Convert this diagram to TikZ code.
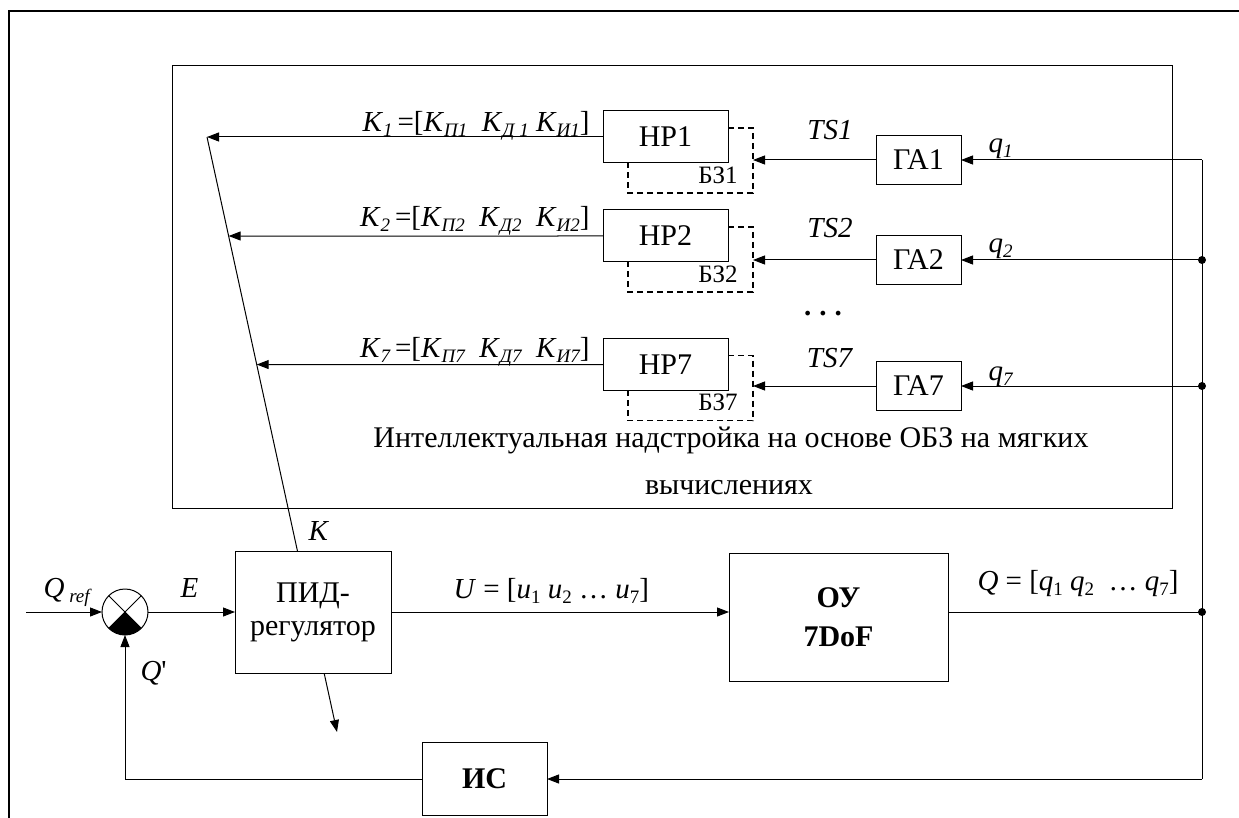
\documentclass[tikz,border=0pt]{standalone}
\usepackage{fontspec}
\setmainfont{Liberation Serif}
\newfontfamily\plainrm{Liberation Serif}[Ligatures=TeXOff]
\usetikzlibrary{arrows.meta,calc}
\newcommand\fsz[2]{\fontsize{#1}{#2}\selectfont}
\newcommand\lsub[1]{\raisebox{-5pt}{\fsz{19}{20}#1}}
\newcommand\isub[1]{\raisebox{-5pt}{\fsz{19}{20}\itshape #1}}
\begin{document}
\begin{tikzpicture}[x=1pt,y=-1pt, line width=1pt,
  arr/.style={-{Triangle[length=12pt,width=9pt]}},
  blk/.style={draw, fill=white, inner sep=0pt, outer sep=0pt, font=\fsz{30}{33}, align=center},
  hpbox/.style={blk, minimum width=125pt, minimum height=52pt},
  gabox/.style={blk, minimum width=85pt, minimum height=49pt},
  lbl/.style={font=\fsz{29}{32}, inner sep=0pt},
  bzlbl/.style={font=\fsz{25}{28}, inner sep=0pt},
  dbox/.style={line width=1.3pt, dash pattern=on 6pt off 4pt},
  jdot/.style={circle, fill, inner sep=0pt, minimum size=8pt}]
\useasboundingbox (0,0) rectangle (1239,818);
% outer frame
\draw[line width=2.6pt] (9,818) -- (9,11) -- (1239,11);
% supervisor box
\node[draw, minimum width=1000pt, minimum height=442pt, inner sep=0pt, outer sep=0pt] (sup) at (672,287) {};
% HP blocks
\node[hpbox] (hp1) at (665.5,137) {НР1};
\node[hpbox] (hp2) at (665.5,236) {НР2};
\node[hpbox] (hp7) at (665.5,364.5) {НР7};
\foreach \h/\n in {hp1/1,hp2/2,hp7/7}{
  \draw[dbox] ($(\h.north east)+(0,17)$) -- ++(25,0) -- ++(0,65) -- ++(-125,0) -- ++(0,-30);
  \node[bzlbl] at ($(\h.north east)+(-10,64)$) {БЗ\n};
}
% GA blocks
\node[gabox] (ga1) at (918.5,160) {ГА1};
\node[gabox] (ga2) at (918.5,260) {ГА2};
\node[gabox] (ga7) at (918.5,386) {ГА7};
\coordinate (bz1) at (753,160);
\coordinate (bz2) at (753,260);
\coordinate (bz7) at (753,386);
\draw[arr] (ga1.west) -- (bz1);
\draw[arr] (ga2.west) -- (bz2);
\draw[arr] (ga7.west) -- (bz7);
% bus
\coordinate (c1) at (1202,160);
\coordinate (j2) at (1202,260);
\coordinate (j7) at (1202,386);
\coordinate (jq) at (1202,612);
\coordinate (cb) at (1202,779);
\draw (c1) -- (cb);
\draw[arr] (c1) -- (ga1.east);
\draw[arr] (j2) -- (ga2.east);
\draw[arr] (j7) -- (ga7.east);
\node[jdot] at (j2) {};
\node[jdot] at (j7) {};
\node[jdot] at (jq) {};
% K line
\coordinate (kt) at (207,137);
\coordinate (kb) at (337,732);
\draw[arr] (kt) -- (kb);
\draw[arr] (hp1.west) -- (kt);
\draw[arr] (hp2.west) -- ($(kt)!0.1664!(kb)$);
\draw[arr] (hp7.west) -- ($(kt)!0.3824!(kb)$);
% main loop blocks
\node[blk, minimum width=156pt, minimum height=122pt] (pid) at (313,612) {ПИД-\\регулятор};
\node[blk, minimum width=219pt, minimum height=128pt, font=\fsz{30}{39}\bfseries] (oy) at (838.5,617) {ОУ\\7DoF};
\node[blk, minimum width=125pt, minimum height=73pt, font=\fsz{30}{33}\bfseries] (is) at (484.5,779) {ИС};
\node[circle, draw, minimum size=46pt, inner sep=0pt, outer sep=0pt] (s) at (125,612) {};
\begin{scope}[shift={(s.center)}, x=1pt, y=1pt]
  \fill (0,0) -- (225:23) arc[start angle=225, end angle=315, radius=23] -- cycle;
\end{scope}
\draw (s.45) -- (s.225);
\draw (s.135) -- (s.315);
\coordinate (qin) at (26,612);
\draw[arr] (qin) -- (s.west);
\draw[arr] (s.east) -- (pid.west);
\draw[arr] (pid.east) -- (pid.east -| oy.west);
\draw (jq -| oy.east) -- (jq);
\draw[arr] (cb) -- (is.east);
\draw[arr] (is.west) -| (s.south);
% labels
\node[lbl, anchor=base east] (lk1) at (590,132) {\textit{K}\isub{1}\,=[\textit{K}\isub{П1}\ \ \textit{K}\isub{Д 1} \textit{K}\isub{И1}]};
\node[lbl, anchor=base east] (lk2) at (590,227) {\textit{K}\isub{2}\,=[\textit{K}\isub{П2}\ \ \textit{K}\isub{Д2}\ \ \textit{K}\isub{И2}]};
\node[lbl, anchor=base east] (lk7) at (590,357) {\textit{K}\isub{7}\,=[\textit{K}\isub{П7}\ \ \textit{K}\isub{Д7}\ \ \textit{K}\isub{И7}]};
\node[lbl, anchor=base] (lts1) at (830,140) {\textit{TS1}};
\node[lbl, anchor=base] (lts2) at (830,238) {\textit{TS2}};
\node[lbl, anchor=base] (lts7) at (830,367) {\textit{TS7}};
\node[lbl, anchor=base west] (lq1) at (988,153) {\textit{q}\isub{1}};
\node[lbl, anchor=base west] (lq2) at (988,253) {\textit{q}\isub{2}};
\node[lbl, anchor=base west] (lq7) at (988,380) {\textit{q}\isub{7}};
\node[lbl, anchor=base] (ldots) at (823,316) {\textbf{.\hspace{8pt}.\hspace{8pt}.}};
\node[lbl, font=\fsz{30}{32}, anchor=base] (lsup1) at (731,447) {Интеллектуальная надстройка на основе ОБЗ на мягких};
\node[lbl, font=\fsz{30}{32}, anchor=base] (lsup2) at (729,494) {вычислениях};
\node[lbl, anchor=base west] (lk) at (308,540) {\textit{K}};
\node[lbl, anchor=base west] (lqref) at (43,597) {\textit{Q}\,\isub{ref}};
\node[lbl, anchor=base west] (le) at (180,597) {\textit{E}};
\node[lbl, anchor=base west] (lqp) at (140,680) {\textit{Q}{\plainrm '}};
\node[lbl, anchor=base west] (lu) at (453,598) {\textit{U} = [\textit{u}\lsub{1} \textit{u}\lsub{2} … \textit{u}\lsub{7}]};
\node[lbl, anchor=base west] (lq) at (977,590) {\textit{Q} = [\textit{q}\lsub{1} \textit{q}\lsub{2}\ \ … \textit{q}\lsub{7}]};
\end{tikzpicture}
\end{document}
